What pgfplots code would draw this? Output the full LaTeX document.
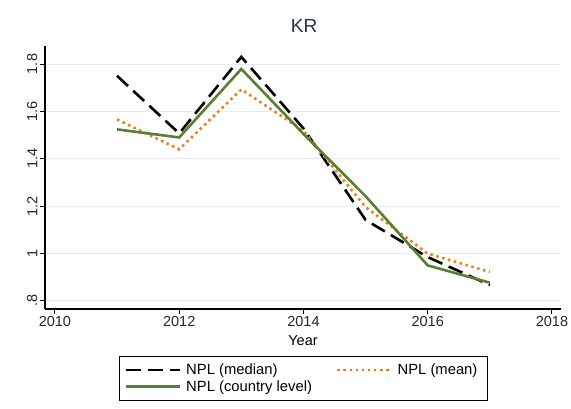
\documentclass[border=0pt]{standalone}
\usepackage{pgfplots}
\pgfplotsset{compat=1.18}
\usepackage{fontspec}
\setmainfont{Liberation Sans}
\definecolor{grn}{RGB}{88,128,50}
\definecolor{org}{RGB}{236,125,25}
\definecolor{ttl}{RGB}{35,50,80}
\definecolor{grd}{RGB}{228,236,240}
\begin{document}
\begin{tikzpicture}
\useasboundingbox (-45pt,-100pt) rectangle (526pt,309pt);
\begin{axis}[
  at={(0pt,0pt)}, anchor=origin,
  scale only axis, width=516pt, height=263pt,
  xmin=2009.84, xmax=2018.145, ymin=0.766, ymax=1.876,
  axis x line*=bottom, axis y line*=left,
  axis line style={line width=1.2pt, -},
  xtick={2010,2012,2014,2016,2018},
  xticklabels={2010,2012,2014,2016,2018},
  ytick={0.8,1,1.2,1.4,1.6,1.8},
  yticklabels={.8,1,1.2,1.4,1.6,1.8},
  tick align=outside, major tick length=5.5pt,
  tick style={line width=1pt, black},
  ymajorgrids, grid style={grd, line width=1pt},
  ticklabel style={font=\fontsize{14.5}{17}\selectfont, text=black!85},
  yticklabel style={rotate=90, anchor=south, inner sep=2pt},
  xticklabel style={inner sep=2pt},
  xlabel={Year}, xlabel style={font=\fontsize{14.5}{17}\selectfont, at={(axis description cs:0.5,-0.122)}, anchor=center},
  title={KR}, title style={font=\fontsize{19}{22}\selectfont, text=ttl, at={(axis description cs:0.502,1.053)}, anchor=center},
  legend columns=2,
  legend style={at={(axis description cs:0.501,-0.264)}, anchor=center, draw=black, line width=0.8pt,
    font=\fontsize{14.8}{17}\selectfont, inner xsep=5pt, inner ysep=5.5pt,
    /tikz/every even column/.append style={column sep=19pt},
    nodes={inner xsep=5pt, inner ysep=2.2pt}},
  legend cell align=left,
  legend image code/.code={\draw[#1] (0pt,0pt) -- (54pt,0pt);},
]
\addplot[black, line width=2.6pt, dash pattern=on 15pt off 7pt] coordinates {
(2011,1.75) (2012,1.507) (2013,1.83) (2014,1.528) (2015,1.142) (2016,0.985) (2017,0.867)};
\addlegendentry{NPL (median)}
\addplot[org, line width=2.6pt, dash pattern=on 2.5pt off 3.6pt] coordinates {
(2011,1.566) (2012,1.44) (2013,1.693) (2014,1.518) (2015,1.196) (2016,1.0) (2017,0.922)};
\addlegendentry{NPL (mean)}
\addplot[grn, line width=2.6pt] coordinates {
(2011,1.524) (2012,1.49) (2013,1.779) (2014,1.505) (2015,1.242) (2016,0.95) (2017,0.877)};
\addlegendentry{NPL (country level)}
\end{axis}
\end{tikzpicture}
\end{document}
